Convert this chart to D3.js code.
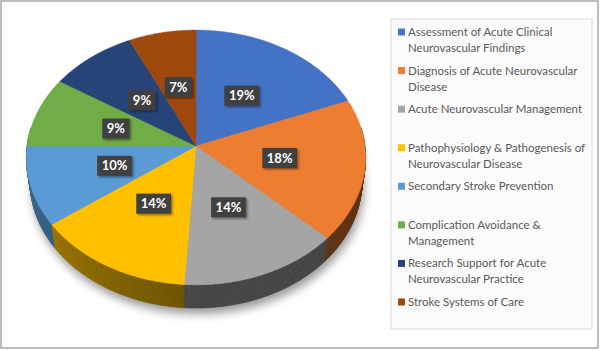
<!DOCTYPE html>
<html><head><meta charset="utf-8">
<script src="https://cdn.jsdelivr.net/npm/d3@7"></script>
<style>body{margin:0;background:#fff;} svg{display:block;}</style>
</head><body>
<svg id="chart" width="600" height="350"></svg>
<script>
const categories = [
  ["Assessment of Acute Clinical", "Neurovascular Findings"],
  ["Diagnosis of Acute Neurovascular", "Disease"],
  ["Acute Neurovascular Management"],
  ["Pathophysiology & Pathogenesis of", "Neurovascular Disease"],
  ["Secondary Stroke Prevention"],
  ["Complication Avoidance &", "Management"],
  ["Research Support for Acute", "Neurovascular Practice"],
  ["Stroke Systems of Care"]
];
const values = [19, 18, 14, 14, 10, 9, 9, 7];
const colors = ["#4472c4", "#ed7d31", "#a5a5a5", "#ffc000", "#5b9bd5", "#70ad47", "#264478", "#9e480e"];

const svg = d3.select("#chart");
const defs = svg.append("defs");
defs.append("filter").attr("id","shadow").attr("x","-20%").attr("y","-20%").attr("width","140%").attr("height","140%")
  .append("feGaussianBlur").attr("stdDeviation", 5);
const lf = defs.append("filter").attr("id","lblshadow").attr("x","-30%").attr("y","-30%").attr("width","170%").attr("height","170%");
lf.append("feDropShadow").attr("dx",1.5).attr("dy",1.5).attr("stdDeviation",1).attr("flood-color","#000").attr("flood-opacity",0.45);

// outer border
svg.append("rect").attr("x",1).attr("y",1).attr("width",597).attr("height",347)
  .attr("fill","#fff").attr("stroke","#a6a6a6").attr("stroke-width",1.5);

// perspective projection of the pie disc
const P = {cx:196, cy:146, f:1245, D:7.37, sa:0.748, ca:0.664, t:0.22};
function proj(u, v, y) {
  const X = u, Y = v*P.sa + y*P.ca, Z = P.D + v*P.ca - y*P.sa;
  return [P.cx + P.f*X/Z, P.cy - P.f*Y/Z];
}
const pie = d3.pie().sort(null).value(d => d)(values);
const step = Math.PI/360;
function arcPts(a0, a1, y) {
  const pts = [];
  const n = Math.max(2, Math.ceil((a1-a0)/step));
  for (let i=0;i<=n;i++){ const a = a0 + (a1-a0)*i/n; pts.push(proj(Math.sin(a), Math.cos(a), y)); }
  return pts;
}
const line = d3.line();

// shadow
const g = svg.append("g");
const shadowPts = arcPts(0, 2*Math.PI, -P.t).map(p => [p[0]+2, p[1]+6]);
g.append("path").attr("d", line(shadowPts)+"Z").attr("fill","#000").attr("opacity",0.4).attr("filter","url(#shadow)");

// side walls (small quads, back to front)
function shade(a) {
  let deg = (a*180/Math.PI) % 360;
  let k;
  if (deg <= 90) k = 0.4;
  else if (deg <= 180) k = 0.4 + 0.02*(deg-90)/90;
  else if (deg <= 270) k = 0.42 + 0.3*(deg-180)/90;
  else k = 0.72;
  return k;
}
const quads = [];
pie.forEach((s, i) => {
  const n = Math.max(2, Math.ceil((s.endAngle - s.startAngle)/step));
  for (let j=0;j<n;j++){
    const a0 = s.startAngle + (s.endAngle-s.startAngle)*j/n;
    const a1 = s.startAngle + (s.endAngle-s.startAngle)*(j+1)/n;
    const am = (a0+a1)/2;
    if (Math.cos(am) > 0.15) continue;
    const c = d3.rgb(colors[i]);
    const k = shade(am);
    const col = d3.rgb(c.r*k, c.g*k, c.b*k).formatHex();
    quads.push({v: Math.cos(am), col, pts:[proj(Math.sin(a0),Math.cos(a0),0), proj(Math.sin(a1),Math.cos(a1),0), proj(Math.sin(a1),Math.cos(a1),-P.t), proj(Math.sin(a0),Math.cos(a0),-P.t)]});
  }
});
quads.sort((a,b) => b.v - a.v);
g.selectAll("path.side").data(quads).enter().append("path").attr("class","side")
  .attr("d", d => line(d.pts)+"Z").attr("fill", d => d.col).attr("stroke", d => d.col).attr("stroke-width",0.6);

// top faces
g.selectAll("path.top").data(pie).enter().append("path").attr("class","top")
  .attr("d", s => line([proj(0,0,0), ...arcPts(s.startAngle, s.endAngle, 0)])+"Z")
  .attr("fill", (s,i) => colors[i]).attr("stroke", (s,i)=>colors[i]).attr("stroke-width",0.5);

// data labels
const lg = svg.append("g");
pie.forEach((s, i) => {
  const am = (s.startAngle + s.endAngle)/2;
  const [x, y] = proj(0.5*Math.sin(am), 0.5*Math.cos(am), 0);
  const grp = lg.append("g").attr("transform", `translate(${x},${y})`);
  const rect = grp.append("rect").attr("fill","#404040").attr("filter","url(#lblshadow)");
  const txt = grp.append("text").attr("text-anchor","middle").attr("dy","0.36em")
    .attr("font-family","Lato, 'Open Sans', sans-serif").attr("font-weight","bold").attr("font-size",13)
    .attr("fill","#fff").text(values[i] + "%");
  const w = txt.node().getComputedTextLength() + 9;
  rect.attr("x", -w/2).attr("y", -10).attr("width", w).attr("height", 20);
});

// legend
const leg = svg.append("g");
leg.append("rect").attr("x",391).attr("y",19).attr("width",201).attr("height",310)
  .attr("fill","#fbfbfb").attr("stroke","#d9d9d9").attr("stroke-width",1);
const legY = d3.scalePoint().domain(d3.range(categories.length)).range([32, 302]);
categories.forEach((lines, i) => {
  const y = legY(i);
  leg.append("rect").attr("x",398).attr("y",y-3.5).attr("width",7).attr("height",7).attr("fill",colors[i]);
  const t = leg.append("text").attr("font-family","Lato, 'Open Sans', sans-serif").attr("font-size",11.5).attr("fill","#595959");
  lines.forEach((ln, j) => t.append("tspan").attr("x",408).attr("y", y + j*16).attr("dy","0.35em").text(ln));
});
</script>
</body></html>
